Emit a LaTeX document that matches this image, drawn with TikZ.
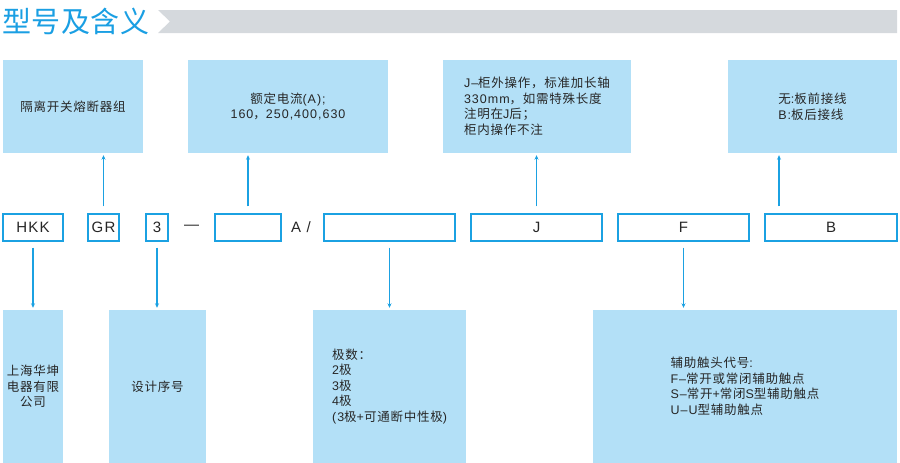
\documentclass[tikz,border=0pt]{standalone}
\usepackage{fontspec}
\setmainfont{Liberation Sans}[LetterSpace=8]
\newfontfamily\cjk{Noto Sans CJK SC}[LetterSpace=6]
\newfontfamily\titlefont{Noto Sans CJK SC}[LetterSpace=2]
\usetikzlibrary{arrows.meta}
\definecolor{lb}{HTML}{1BA1E2}
\definecolor{titleblue}{HTML}{1A9FE3}
\definecolor{fillb}{HTML}{B3E0F7}
\definecolor{bann}{HTML}{D5D9DD}
\definecolor{txt}{HTML}{262626}
\begin{document}
\begin{tikzpicture}[x=1pt,y=-1pt,
 info/.style={fill=fillb, inner sep=0, text=txt, font=\fontsize{12.5}{15.5}\selectfont, align=center},
 infol/.style={info, align=left},
 code/.style={draw=lb, line width=1.4pt, fill=white, minimum height=27pt, inner sep=0, text=txt, font=\fontsize{15}{18}\selectfont},
 plain/.style={inner sep=0, text=txt, font=\fontsize{15}{18}\selectfont},
 arr/.style={draw=lb, line width=1.2pt, -{Stealth[length=4.5pt,width=4pt]}},
 ]
\useasboundingbox (0,0) rectangle (900,463);
% title and banner
\node[anchor=west, inner sep=0, text=titleblue, font=\titlefont\fontsize{29}{31}\selectfont] (title) at (2,21.5) {型号及含义};
\fill[bann] (158,10) -- (897,10) -- (897,33) -- (158,33) -- (170,21.5) -- cycle;
% top boxes
\node[info, minimum width=140pt, minimum height=93pt] (t1) at (73,106.5) {{\cjk 隔离开关熔断器组}};
\node[info, minimum width=200pt, minimum height=93pt] (t2) at (288,106.5) {{\cjk 额定电流}(A);\\160{\cjk ，}250,400,630};
\node[infol, minimum width=188pt, minimum height=93pt] (t3) at (537,106.5) {J–{\cjk 柜外操作，标准加长轴}\\330mm{\cjk ，如需特殊长度}\\{\cjk 注明在}J{\cjk 后；}\\{\cjk 柜内操作不注}};
\node[infol, minimum width=169pt, minimum height=93pt] (t4) at (812.5,106.5) {{\cjk 无}:{\cjk 板前接线}\\B:{\cjk 板后接线}};
% code row
\node[code, minimum width=60pt] (m1) at (33,227.5) {HKK};
\node[code, minimum width=31pt] (m2) at (103.5,227.5) {GR};
\node[code, minimum width=22pt] (m3) at (157,227.5) {3};
\node[plain] (dash) at (191.5,227.5) {—};
\node[code, minimum width=66pt] (m4) at (248,227.5) {};
\node[plain] (aslash) at (301,227.5) {A /};
\node[code, minimum width=131pt] (m5) at (389.5,227.5) {};
\node[code, minimum width=131pt] (m6) at (536.5,227.5) {J};
\node[code, minimum width=131pt] (m7) at (683.5,227.5) {F};
\node[code, minimum width=132pt] (m8) at (831,227.5) {B};
% bottom boxes
\node[info, minimum width=60pt, minimum height=153pt, font=\cjk\fontsize{12.5}{15.5}\selectfont] (b1) at (33,386.5) {上海华坤\\电器有限\\公司};
\node[info, minimum width=97pt, minimum height=153pt] (b2) at (157.5,386.5) {{\cjk 设计序号}};
\node[infol, minimum width=153pt, minimum height=153pt] (b3) at (389.5,386.5) {{\cjk 极数：}\\2{\cjk 极}\\3{\cjk 极}\\4{\cjk 极}\\(3{\cjk 极}+{\cjk 可通断中性极})};
\node[infol, minimum width=304pt, minimum height=153pt] (b4) at (745,386.5) {{\cjk 辅助触头代号}:\\F–{\cjk 常开或常闭辅助触点}\\S–{\cjk 常开}+{\cjk 常闭}S{\cjk 型辅助触点}\\U–U{\cjk 型辅助触点}};
% connectors up
\coordinate (ba) at (779,0);
\draw[arr, shorten <=7pt, shorten >=2pt] (m2.north) -- (m2.north |- t1.south);
\draw[arr, shorten <=7pt, shorten >=2pt] (m4.north) -- (m4.north |- t2.south);
\draw[arr, shorten <=7pt, shorten >=2pt] (m6.north) -- (m6.north |- t3.south);
\draw[arr, shorten <=7pt, shorten >=2pt] (m8.north -| ba) -- (t4.south -| ba);
% connectors down
\draw[arr, shorten <=6pt, shorten >=2pt] (m1.south) -- (m1.south |- b1.north);
\draw[arr, shorten <=6pt, shorten >=2pt] (m3.south) -- (m3.south |- b2.north);
\draw[arr, shorten <=6pt, shorten >=2pt] (m5.south) -- (m5.south |- b3.north);
\draw[arr, shorten <=6pt, shorten >=2pt] (m7.south) -- (m7.south |- b4.north);
\end{tikzpicture}
\end{document}
